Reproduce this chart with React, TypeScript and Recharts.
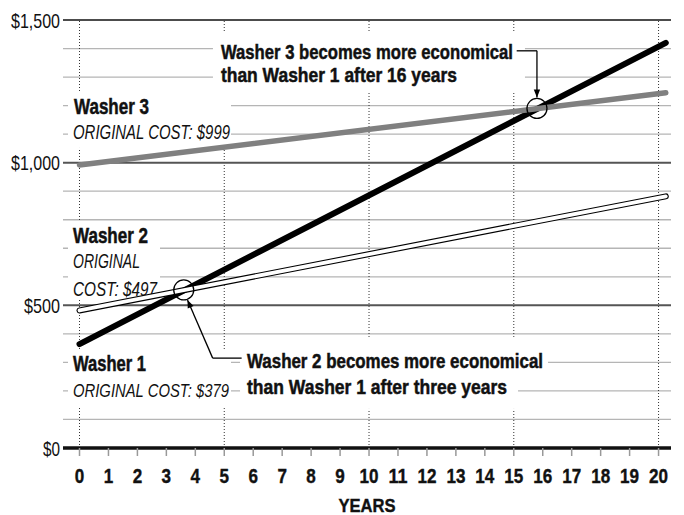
import React from "react";
import { LineChart, Line, XAxis, YAxis, ReferenceLine, ReferenceDot } from "recharts";

// values (line ends run a little past year 20)
const lineYears = [0, 20.25];
const washer1Cost = [364, 1420];
const washer2Cost = [482, 882];
const washer3Cost = [992, 1245];

const yearTicks = [0, 1, 2, 3, 4, 5, 6, 7, 8, 9, 10, 11, 12, 13, 14, 15, 16, 17, 18, 19, 20];
const costTicks = [0, 500, 1000, 1500];
const minorCosts = [100, 200, 300, 400, 600, 700, 800, 900, 1100, 1200, 1300, 1400];
const majorCosts = [500, 1000];
const dottedYears = [0, 5, 10, 15, 20];

// where the lines cross (circled in the picture)
const crossing2 = { year: 3.6, cost: 554 };
const crossing3 = { year: 15.8, cost: 1190 };

// callout leader lines
const note3Path = [
  { year: 15.1, cost: 1392 },
  { year: 15.8, cost: 1392 },
  { year: 15.8, cost: 1228 },
];
const note2Path = [
  { year: 5.6, cost: 315 },
  { year: 4.6, cost: 315 },
  { year: 3.73, cost: 519 },
];

const data = lineYears.map((year, i) => ({
  year,
  w1: washer1Cost[i],
  w2: washer2Cost[i],
  w3: washer3Cost[i],
}));

const FONT = "'Liberation Sans Narrow', 'Liberation Sans', Arial, sans-serif";

type Line_ = { text: string; dx: number; dy: number; bold?: boolean; italic?: boolean; size: number; width?: number };
type Box = { x0: number; x1: number; y0: number; y1: number };

function TextBlock({ cx, cy, boxes, lines }: { cx?: number; cy?: number; boxes: Box[]; lines: Line_[] }) {
  if (cx == null || cy == null) return null;
  return (
    <g>
      {boxes.map((b, i) => (
        <rect key={i} x={cx + b.x0} y={cy + b.y0} width={b.x1 - b.x0} height={b.y1 - b.y0} fill="#fff" />
      ))}
      {lines.map((l, i) => (
        <text
          key={i}
          x={cx + l.dx}
          y={cy + l.dy}
          fontFamily={FONT}
          fontSize={l.size}
          fontWeight={l.bold ? 700 : 400}
          fontStyle={l.italic ? "italic" : "normal"}
          fill="#111"
          stroke={l.bold ? "#111" : "none"}
          strokeWidth={l.bold ? 0.5 : 0}
          textLength={l.width}
          lengthAdjust="spacingAndGlyphs"
        >
          {l.text}
        </text>
      ))}
    </g>
  );
}

function Arrow({ cx, cy, angle }: { cx?: number; cy?: number; angle: number }) {
  if (cx == null || cy == null) return null;
  return (
    <polygon
      points="0,0 -8,-3.2 -8,3.2"
      fill="#000"
      transform={`translate(${cx},${cy}) rotate(${angle})`}
    />
  );
}

const YearTick = (props: any) => {
  const { x, y, payload } = props;
  const s = String(payload.value);
  return (
    <text
      x={x}
      y={y + 27}
      textAnchor="middle"
      fontFamily={FONT}
      fontSize={21}
      fontWeight={700}
      fill="#111"
      stroke="#111"
      strokeWidth={0.4}
      textLength={s.length * 9.5}
      lengthAdjust="spacingAndGlyphs"
    >
      {s}
    </text>
  );
};

const tickWidths: Record<number, number> = { 2: 17, 4: 36, 6: 49 };

const CostTick = (props: any) => {
  const { x, y, payload } = props;
  const s = "$" + payload.value.toLocaleString("en-US");
  return (
    <text
      x={x - (tickWidths[s.length] || 40)}
      y={y + 7.5}
      fontFamily={FONT}
      fontSize={21}
      fill="#111"
      textLength={tickWidths[s.length]}
      lengthAdjust="spacingAndGlyphs"
    >
      {s}
    </text>
  );
};

const YearsLabel = (props: any) => {
  const vb = props.viewBox;
  if (!vb) return null;
  return (
    <text
      x={vb.x + vb.width / 2 - 28.5}
      y={vb.y + 64}
      fontFamily={FONT}
      fontSize={18.5}
      fontWeight={700}
      fill="#111"
      stroke="#111"
      strokeWidth={0.4}
      textLength={57}
      lengthAdjust="spacingAndGlyphs"
    >
      YEARS
    </text>
  );
};

export default function App() {
  return (
    <div style={{ position: "absolute", left: 0, top: 0, background: "#fff" }}>
      <LineChart width={684} height={515} data={data} margin={{ top: 20, right: 13, bottom: 0, left: 0 }}>
        <XAxis
          dataKey="year"
          type="number"
          domain={[-0.57, 20.43]}
          ticks={yearTicks}
          interval={0}
          allowDataOverflow
          axisLine={false}
          tickLine={{ stroke: "#999", strokeWidth: 1.5 }}
          tickSize={8}
          tickMargin={0}
          height={67}
          tick={<YearTick />}
          label={<YearsLabel />}
        />
        <YAxis
          type="number"
          domain={[0, 1500]}
          ticks={costTicks}
          interval={0}
          axisLine={false}
          tickLine={false}
          tickSize={0}
          tickMargin={3}
          width={63}
          tick={<CostTick />}
        />

        {minorCosts.map((c) => (
          <ReferenceLine key={`m${c}`} y={c} stroke="#b5b5b5" strokeWidth={1.3} zIndex={100} />
        ))}
        {dottedYears.map((yr) => (
          <ReferenceLine key={`d${yr}`} x={yr} stroke="#333" strokeWidth={1} strokeDasharray="1 2" zIndex={100} />
        ))}
        {majorCosts.map((c) => (
          <ReferenceLine key={`M${c}`} y={c} stroke="#555" strokeWidth={2} zIndex={100} />
        ))}
        <ReferenceLine y={1500} stroke="#111" strokeWidth={1.4} zIndex={100} />
        <ReferenceLine y={0} stroke="#111" strokeWidth={3.5} zIndex={100} />

        {/* white label boxes and text */}
        <ReferenceDot
          x={lineYears[0]}
          y={washer3Cost[0]}
          zIndex={200}
          shape={(p: any) => (
            <TextBlock
              cx={p.cx}
              cy={p.cy}
              boxes={[{ x0: -11.5, x1: 151.5, y0: -72, y1: -17 }]}
              lines={[
                { text: "Washer 3", dx: -5.5, dy: -51, bold: true, size: 22, width: 75 },
                { text: "ORIGINAL COST:  $999", dx: -6.5, dy: -26, italic: true, size: 19.5, width: 157 },
              ]}
            />
          )}
        />
        <ReferenceDot
          x={lineYears[0]}
          y={washer2Cost[0]}
          zIndex={200}
          shape={(p: any) => (
            <TextBlock
              cx={p.cx}
              cy={p.cy}
              boxes={[{ x0: -11.5, x1: 80.5, y0: -88.5, y1: -10.5 }]}
              lines={[
                { text: "Washer 2", dx: -6.5, dy: -67.5, bold: true, size: 22, width: 75 },
                { text: "ORIGINAL", dx: -6.5, dy: -42.5, italic: true, size: 19.5, width: 67 },
                { text: "COST:  $497", dx: -6.5, dy: -14.5, italic: true, size: 19.5, width: 84 },
              ]}
            />
          )}
        />
        <ReferenceDot
          x={lineYears[0]}
          y={washer1Cost[0]}
          zIndex={200}
          shape={(p: any) => (
            <TextBlock
              cx={p.cx}
              cy={p.cy}
              boxes={[{ x0: -11.5, x1: 151.5, y0: 6, y1: 63 }]}
              lines={[
                { text: "Washer 1", dx: -6.5, dy: 27, bold: true, size: 22, width: 73 },
                { text: "ORIGINAL COST: $379", dx: -6.5, dy: 53, italic: true, size: 18, width: 156 },
              ]}
            />
          )}
        />
        <ReferenceDot
          x={crossing3.year}
          y={crossing3.cost}
          zIndex={200}
          shape={(p: any) => (
            <TextBlock
              cx={p.cx}
              cy={p.cy}
              boxes={[{ x0: -324, x1: -12, y0: -75.5, y1: -16.5 }]}
              lines={[
                { text: "Washer 3 becomes more economical", dx: -316, dy: -49.5, bold: true, size: 21, width: 292 },
                { text: "than Washer 1 after 16 years", dx: -316, dy: -26.5, bold: true, size: 21, width: 236 },
              ]}
            />
          )}
        />
        <ReferenceDot
          x={crossing2.year}
          y={crossing2.cost}
          zIndex={200}
          shape={(p: any) => (
            <TextBlock
              cx={p.cx}
              cy={p.cy}
              boxes={[
                { x0: 56.3, x1: 364.3, y0: 47, y1: 85 },
                { x0: 56.3, x1: 334.3, y0: 85, y1: 119 },
              ]}
              lines={[
                { text: "Washer 2 becomes more economical", dx: 63.3, dy: 78.5, bold: true, size: 20.5, width: 296 },
                { text: "than Washer 1 after three years", dx: 63.3, dy: 104, bold: true, size: 20.5, width: 260 },
              ]}
            />
          )}
        />

        <Line dataKey="w1" stroke="#000" strokeWidth={6} strokeLinecap="round" dot={false} activeDot={false} isAnimationActive={false} zIndex={300} />
        <Line dataKey="w2" stroke="#000" strokeWidth={6} strokeLinecap="round" dot={false} activeDot={false} isAnimationActive={false} zIndex={300} />
        <Line dataKey="w2" stroke="#fff" strokeWidth={3.8} strokeLinecap="round" dot={false} activeDot={false} isAnimationActive={false} zIndex={300} />
        <Line dataKey="w3" stroke="#808080" strokeWidth={5.5} strokeLinecap="round" dot={false} activeDot={false} isAnimationActive={false} zIndex={300} />

        {/* circles and leaders */}
        <ReferenceDot x={crossing2.year} y={crossing2.cost} r={10} fill="none" stroke="#000" strokeWidth={1.3} zIndex={400} />
        <ReferenceDot x={crossing3.year} y={crossing3.cost} r={10} fill="none" stroke="#000" strokeWidth={1.3} zIndex={400} />
        {note3Path.slice(1).map((pt, i) => (
          <ReferenceLine
            key={`n3${i}`}
            segment={[{ x: note3Path[i].year, y: note3Path[i].cost }, { x: pt.year, y: pt.cost }]}
            stroke="#000"
            strokeWidth={1.3}
            zIndex={400}
          />
        ))}
        {note2Path.slice(1).map((pt, i) => (
          <ReferenceLine
            key={`n2${i}`}
            segment={[{ x: note2Path[i].year, y: note2Path[i].cost }, { x: pt.year, y: pt.cost }]}
            stroke="#000"
            strokeWidth={1.3}
            zIndex={400}
          />
        ))}
        <ReferenceDot
          x={note3Path[2].year}
          y={note3Path[2].cost}
          zIndex={400}
          shape={(p: any) => <Arrow cx={p.cx} cy={p.cy} angle={90} />}
        />
        <ReferenceDot
          x={note2Path[2].year}
          y={note2Path[2].cost}
          zIndex={400}
          shape={(p: any) => <Arrow cx={p.cx} cy={p.cy} angle={-113.4} />}
        />
      </LineChart>
    </div>
  );
}
